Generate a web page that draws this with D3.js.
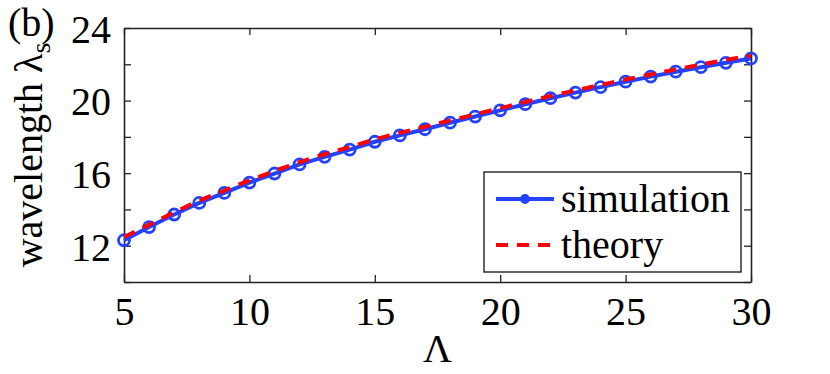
<!DOCTYPE html>
<html>
<head>
<meta charset="utf-8">
<script src="https://cdn.jsdelivr.net/npm/d3@7"></script>
<style>
  html, body { margin: 0; padding: 0; background: #fff; }
  svg { display: block; }
</style>
</head>
<body>
<svg id="chart" width="830" height="374"></svg>
<script>
const lambdaVals = [5,6,7,8,9,10,11,12,13,14,15,16,17,18,19,20,21,22,23,24,25,26,27,28,29,30];
const simulation = [12.30,13.03,13.72,14.36,14.91,15.48,15.98,16.48,16.90,17.30,17.73,18.08,18.42,18.78,19.12,19.46,19.80,20.13,20.44,20.74,21.04,21.32,21.59,21.84,22.08,22.32];
const theory = [12.48,13.16,13.84,14.48,15.04,15.60,16.12,16.60,17.04,17.44,17.86,18.22,18.56,18.90,19.24,19.58,19.92,20.25,20.56,20.86,21.16,21.44,21.72,21.98,22.24,22.48];
const xTicks = [5,10,15,20,25,30];
const yTicks = [10,12,14,16,18,20,22,24];
const yTickLabels = ["", "12", "", "16", "", "20", "", "24"];
const legendLabels = ["simulation", "theory"];

(function () {
const FAM = "'Liberation Serif', serif";
const svg = d3.select("#chart").attr("font-family", FAM);
const L = 124, R = 751, T = 28, B = 282;
const x = d3.scaleLinear().domain([5, 30]).range([L, R]);
const y = d3.scaleLinear().domain([10, 24]).range([B, T]);

const blue = "#2342ff", red = "#ff0000";
const fs = 40;
const axisColor = "#222";

const gBottom = svg.append("g").attr("transform", `translate(0,${B})`)
  .call(d3.axisBottom(x).tickValues(xTicks).tickSizeInner(-7).tickSizeOuter(0).tickFormat(d3.format("d")));
const gTop = svg.append("g").attr("transform", `translate(0,${T})`)
  .call(d3.axisTop(x).tickValues(xTicks).tickSizeInner(-7).tickSizeOuter(0).tickFormat(""));
const gLeft = svg.append("g").attr("transform", `translate(${L},0)`)
  .call(d3.axisLeft(y).tickValues(yTicks).tickSizeInner(-7).tickSizeOuter(0).tickPadding(13).tickFormat((d,i) => yTickLabels[i]));
const gRight = svg.append("g").attr("transform", `translate(${R},0)`)
  .call(d3.axisRight(y).tickValues(yTicks).tickSizeInner(-7).tickSizeOuter(0).tickFormat(""));

[gBottom, gTop, gLeft, gRight].forEach(g => {
  g.attr("font-family", FAM).attr("font-size", fs);
  g.select(".domain").attr("stroke", axisColor).attr("stroke-width", 1.6);
  g.selectAll(".tick line").attr("stroke", axisColor).attr("stroke-width", 1.3);
  g.selectAll("text").attr("font-family", FAM).attr("font-size", fs).attr("fill", "#000");
});
gBottom.selectAll("text").attr("dy", 0).attr("y", 43);
gLeft.selectAll("text").attr("dy", "0.36em");

const lineSim = d3.line().x((d,i) => x(lambdaVals[i])).y(d => y(d));
svg.append("path").datum(simulation)
  .attr("d", lineSim).attr("fill", "none").attr("stroke", blue).attr("stroke-width", 4);
svg.append("g").selectAll("circle").data(simulation).join("circle")
  .attr("cx", (d,i) => x(lambdaVals[i])).attr("cy", d => y(d)).attr("r", 5.5)
  .attr("fill", "none").attr("stroke", blue).attr("stroke-width", 2.8);

const lineTh = d3.line().curve(d3.curveMonotoneX).x((d,i) => x(lambdaVals[i])).y(d => y(d));
svg.append("path").datum(theory)
  .attr("d", lineTh).attr("fill", "none").attr("stroke", red).attr("stroke-width", 4)
  .attr("stroke-dasharray", "12,9");

const lg = svg.append("g");
lg.append("rect").attr("x", 484).attr("y", 172).attr("width", 257).attr("height", 100)
  .attr("fill", "#fff").attr("stroke", axisColor).attr("stroke-width", 1.4);
lg.append("line").attr("x1", 496).attr("x2", 554).attr("y1", 199).attr("y2", 199)
  .attr("stroke", blue).attr("stroke-width", 4);
lg.append("circle").attr("cx", 525).attr("cy", 199).attr("r", 3.5)
  .attr("fill", "none").attr("stroke", blue).attr("stroke-width", 2.8);
lg.append("line").attr("x1", 496).attr("x2", 554).attr("y1", 245).attr("y2", 245)
  .attr("stroke", red).attr("stroke-width", 4).attr("stroke-dasharray", "12,9");
lg.selectAll("text.leg").data(legendLabels).join("text").attr("class", "leg")
  .attr("x", 561).attr("y", (d,i) => 212 + i*46)
  .attr("font-family", FAM).attr("font-size", fs).text(d => d);

svg.append("text").attr("x", 8).attr("y", 36).attr("font-family", FAM).attr("font-size", fs).text("(b)");

const yl = svg.append("text")
  .attr("transform", `translate(42,${(T+B)/2}) rotate(-90)`)
  .attr("text-anchor", "middle").attr("font-family", FAM).attr("font-size", fs);
yl.append("tspan").text("wavelength λ");
yl.append("tspan").attr("dy", 8).attr("font-size", 28).text("s");

svg.append("text").attr("x", (L+R)/2).attr("y", 362).attr("text-anchor", "middle")
  .attr("font-family", FAM).attr("font-size", fs).text("Λ");
})();
</script>
</body>
</html>
